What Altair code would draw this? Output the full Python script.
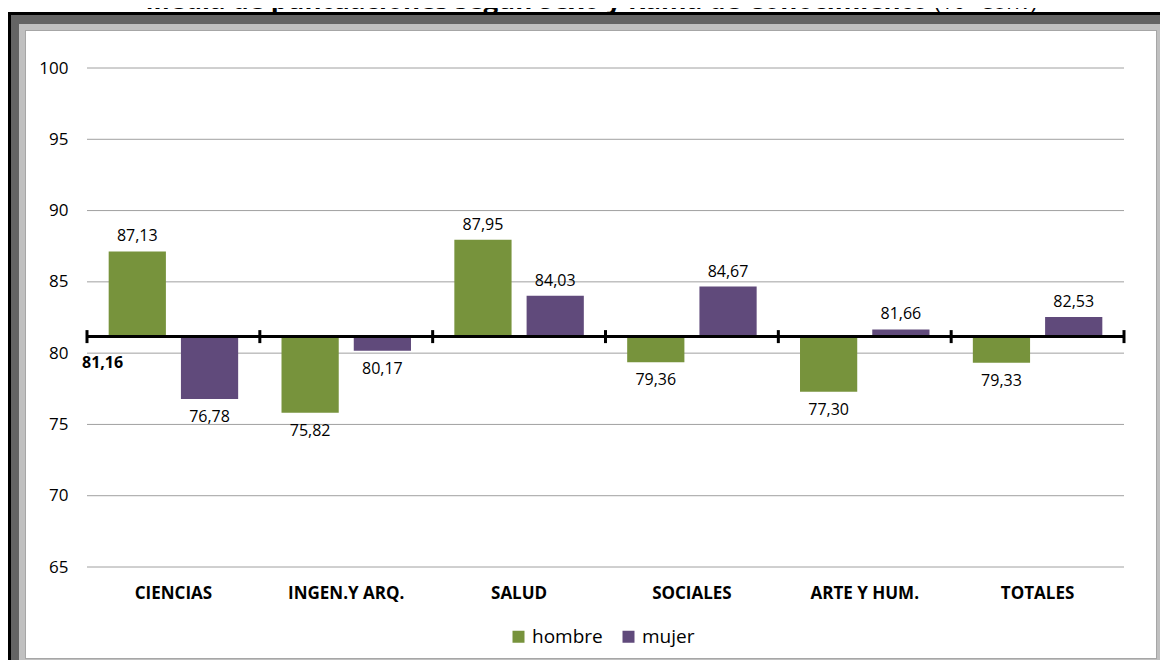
import altair as alt
import pandas as pd

# ---------------- data ----------------
categories = ["CIENCIAS", "INGEN.Y ARQ.", "SALUD", "SOCIALES", "ARTE Y HUM.", "TOTALES"]
series = ["hombre", "mujer"]
hombre = [87.13, 75.82, 87.95, 79.36, 77.30, 79.33]
mujer = [76.78, 80.17, 84.03, 84.67, 81.66, 82.53]
baseline = 81.16
y_ticks = [65, 70, 75, 80, 85, 90, 95, 100]
colors = ["#77933C", "#604A7B"]
title_main = "Media de puntuaciones según Sexo y Rama de Conocimiento"
title_sub = "(10ª Conv)"

def fmt(v):
    return f"{v:.2f}".replace(".", ",")

rows = []
for i, c in enumerate(categories):
    for s, vals in zip(series, [hombre, mujer]):
        v = vals[i]
        rows.append({"cat": c, "sexo": s, "valor": v, "base": baseline,
                     "label": fmt(v), "arriba": bool(v > baseline)})
df = pd.DataFrame(rows)
grid_df = pd.DataFrame({"valor": y_ticks})
bound_df = pd.DataFrame({"cat": categories, "base": [baseline] * len(categories)})
last_df = pd.DataFrame({"cat": [categories[-1]], "base": [baseline]})
one = pd.DataFrame({"k": [0]})

# ---------------- layout ----------------
W, H = 1037, 499
FONT = "Open Sans"
PAD = {"left": 79, "top": 60, "right": 36, "bottom": 93}
RIGHT = W + PAD["right"]
BOTTOM = H + PAD["bottom"]

x_scale = alt.Scale(domain=categories, paddingInner=0, paddingOuter=0)
xo_scale = alt.Scale(domain=series, paddingInner=0.208, paddingOuter=0.3)
y_scale = alt.Scale(domain=[65, 100], nice=False, zero=False)
y_axis = alt.Axis(values=y_ticks, labelFont=FONT, labelFontSize=17,
                  labelColor="#000000", labelPadding=19, ticks=False,
                  domain=False, grid=False, zindex=1)

def frame_rect(x, y, x2, y2, color):
    return alt.Chart(one).mark_rect(color=color).encode(
        x=alt.value(x), y=alt.value(y), x2=alt.value(x2), y2=alt.value(y2))

frame = (
    frame_rect(-80, -56, RIGHT + 10, BOTTOM + 10, "#000000")
    + frame_rect(-76, -53, RIGHT + 10, BOTTOM + 10, "#646464")
    + frame_rect(-68, -44, RIGHT + 10, 597, "#c0c0c0")
    + frame_rect(-62, -38, RIGHT - 3, 591, "#a6a6a6")
    + frame_rect(-61, -37, RIGHT - 4, 590, "#ffffff")
)

title1 = alt.Chart(one).mark_text(
    text=title_main, font=FONT, fontSize=26, fontWeight="bold", align="right",
    baseline="alphabetic", color="#000000"
).encode(x=alt.value(841), y=alt.value(-59))
title2 = alt.Chart(one).mark_text(
    text=title_sub, font=FONT, fontSize=22, align="left",
    baseline="alphabetic", color="#000000"
).encode(x=alt.value(847), y=alt.value(-59))

grid = alt.Chart(grid_df).mark_rule(color="#a0a0a0", strokeWidth=1).encode(
    y=alt.Y("valor:Q", scale=y_scale, title=None, axis=y_axis),
    x=alt.value(0), x2=alt.value(W),
)

bars = alt.Chart(df).mark_bar().encode(
    x=alt.X("cat:N", scale=x_scale, sort=categories, title=None,
            axis=alt.Axis(labelAngle=0, labelFont=FONT, labelFontSize=17,
                          labelFontWeight="bold", labelColor="#000000",
                          labelPadding=18, ticks=False, domain=False, grid=False,
                          zindex=1)),
    xOffset=alt.XOffset("sexo:N", scale=xo_scale),
    y=alt.Y("valor:Q", scale=y_scale, title=None, axis=y_axis),
    y2=alt.Y2("base:Q"),
    color=alt.Color("sexo:N", scale=alt.Scale(domain=series, range=colors),
                    legend=alt.Legend(title=None, orient="none", legendX=422,
                                      legendY=559, direction="horizontal",
                                      symbolType="square", symbolSize=144,
                                      symbolStrokeWidth=0, labelFont=FONT,
                                      labelFontSize=19, labelColor="#000000",
                                      labelOffset=4, columnPadding=16, zindex=1)),
)

label_enc = dict(
    x=alt.X("cat:N", scale=x_scale, sort=categories),
    xOffset=alt.XOffset("sexo:N", scale=xo_scale),
    y=alt.Y("valor:Q", scale=y_scale),
    text="label:N",
)
labels_up = alt.Chart(df).transform_filter("datum.arriba").mark_text(
    font=FONT, fontSize=16, color="#000000", baseline="middle", dy=-15
).encode(**label_enc)
labels_dn = alt.Chart(df).transform_filter("!datum.arriba").mark_text(
    font=FONT, fontSize=16, color="#000000", baseline="middle", dy=18
).encode(**label_enc)

axis_line = alt.Chart(one).mark_rule(color="#000000", strokeWidth=3).encode(
    y=alt.datum(baseline, scale=y_scale), x=alt.value(0), x2=alt.value(W))

ticks_a = alt.Chart(bound_df).mark_tick(orient="vertical", size=13, thickness=3,
                                        color="#000000", opacity=1).encode(
    x=alt.X("cat:N", scale=x_scale, sort=categories, bandPosition=0),
    y=alt.Y("base:Q", scale=y_scale))
ticks_b = alt.Chart(last_df).mark_tick(orient="vertical", size=13, thickness=3,
                                       color="#000000", opacity=1).encode(
    x=alt.X("cat:N", scale=x_scale, sort=categories, bandPosition=1),
    y=alt.Y("base:Q", scale=y_scale))

base_label = alt.Chart(one).mark_text(
    font=FONT, fontSize=16, fontWeight="bold", color="#000000", align="left",
    baseline="middle", dy=26
).encode(x=alt.value(-5), y=alt.datum(baseline, scale=y_scale),
         text=alt.value(fmt(baseline)))

chart = alt.layer(
    frame, title1, title2, grid, bars, axis_line, ticks_a, ticks_b,
    labels_up, labels_dn, base_label
).properties(
    width=W, height=H,
    autosize=alt.AutoSizeParams(type="none"),
    padding=PAD,
    background="#ffffff",
).configure_view(stroke=None)

chart.save("out.html", embed_options={"renderer": "svg", "actions": False})
